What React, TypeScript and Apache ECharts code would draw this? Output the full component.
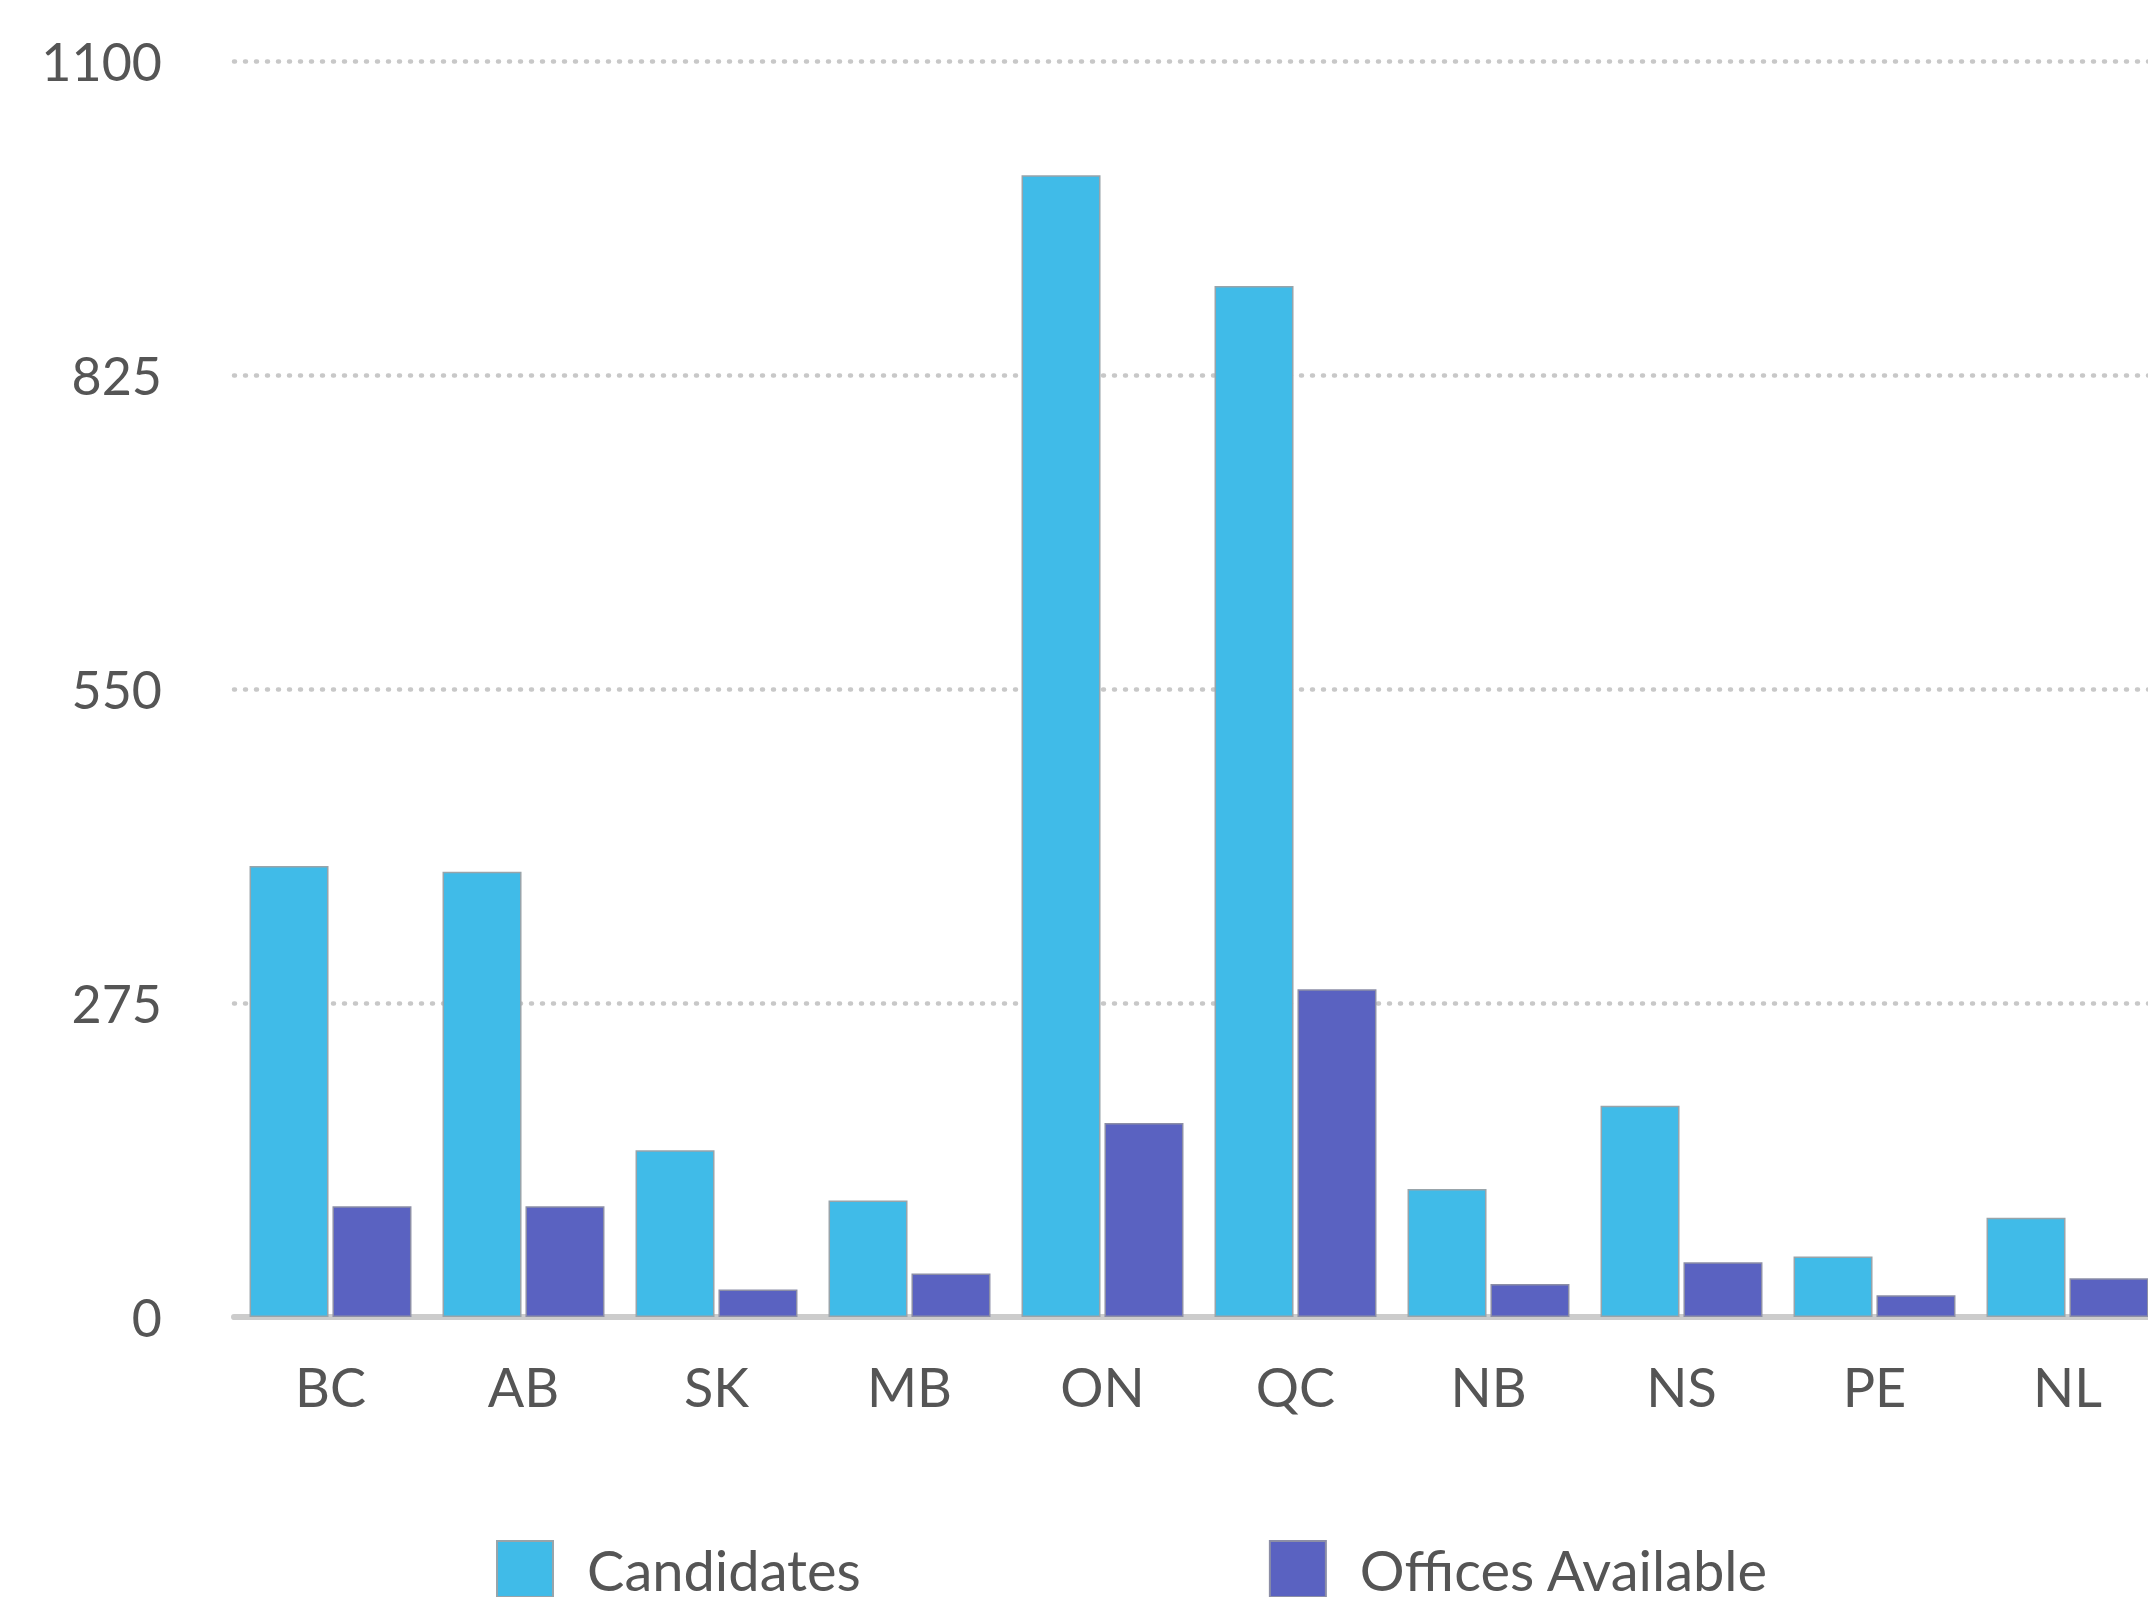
import React, { useEffect, useRef } from "react";
import * as echarts from "echarts";

const categories = ["BC", "AB", "SK", "MB", "ON", "QC", "NB", "NS", "PE", "NL"];
const candidates = [395, 390, 146, 102, 1000, 903, 112, 185, 53, 87];
const officesAvailable = [97, 97, 24, 38, 170, 287, 29, 48, 19, 34];
const yTicks = { min: 0, max: 1100, interval: 275 };

const FONT = "Lato, 'Noto Sans', sans-serif";

export default function App() {
  const ref = useRef<HTMLDivElement>(null);
  useEffect(() => {
    if (!ref.current) return;
    const chart = echarts.init(ref.current, null, { renderer: "svg" });
    chart.setOption({
      animation: false,
      backgroundColor: "#ffffff",
      grid: { left: 234, right: 0, top: 61, bottom: 280, containLabel: false },
      legend: {
        left: 496,
        top: 1540,
        padding: 0,
        itemWidth: 56,
        itemHeight: 56,
        itemGap: 408,
        icon: "rect",
        textStyle: {
          fontFamily: FONT,
          fontSize: 56,
          color: "#555555",
          padding: [0, 0, 0, 29],
        },
        data: ["Candidates", "Offices Available"],
      },
      xAxis: {
        type: "category",
        data: categories,
        axisLine: { show: true, lineStyle: { color: "#cccccc", width: 6 } },
        axisTick: { show: false },
        axisLabel: {
          fontFamily: FONT,
          fontSize: 54,
          color: "#555555",
          margin: 42,
        },
        splitLine: { show: false },
      },
      yAxis: {
        type: "value",
        min: yTicks.min,
        max: yTicks.max,
        interval: yTicks.interval,
        axisLine: { show: false },
        axisTick: { show: false },
        axisLabel: {
          fontFamily: FONT,
          fontSize: 52,
          color: "#555555",
          margin: 72,
          formatter: (v: number) => String(v),
        },
        splitLine: {
          show: true,
          lineStyle: { color: "#c8c8c8", width: 4.5, type: [1, 10], cap: "round" },
        },
      },
      series: [
        {
          name: "Candidates",
          type: "bar",
          data: candidates,
          barWidth: 79,
          barGap: "5%",
          itemStyle: { color: "#40bbe8", borderColor: "#98a4aa", borderWidth: 1.5 },
        },
        {
          name: "Offices Available",
          type: "bar",
          data: officesAvailable,
          barWidth: 79,
          barGap: "5%",
          itemStyle: { color: "#5a62c1", borderColor: "#8c8ea6", borderWidth: 1.5 },
        },
      ],
    });
    return () => chart.dispose();
  }, []);
  return (
    <div
      style={{
        position: "fixed",
        left: 0,
        top: 0,
        width: 2148,
        height: 1597,
        overflow: "hidden",
        background: "#fff",
      }}
    >
      <div ref={ref} style={{ width: 2164, height: 1597 }} />
    </div>
  );
}
